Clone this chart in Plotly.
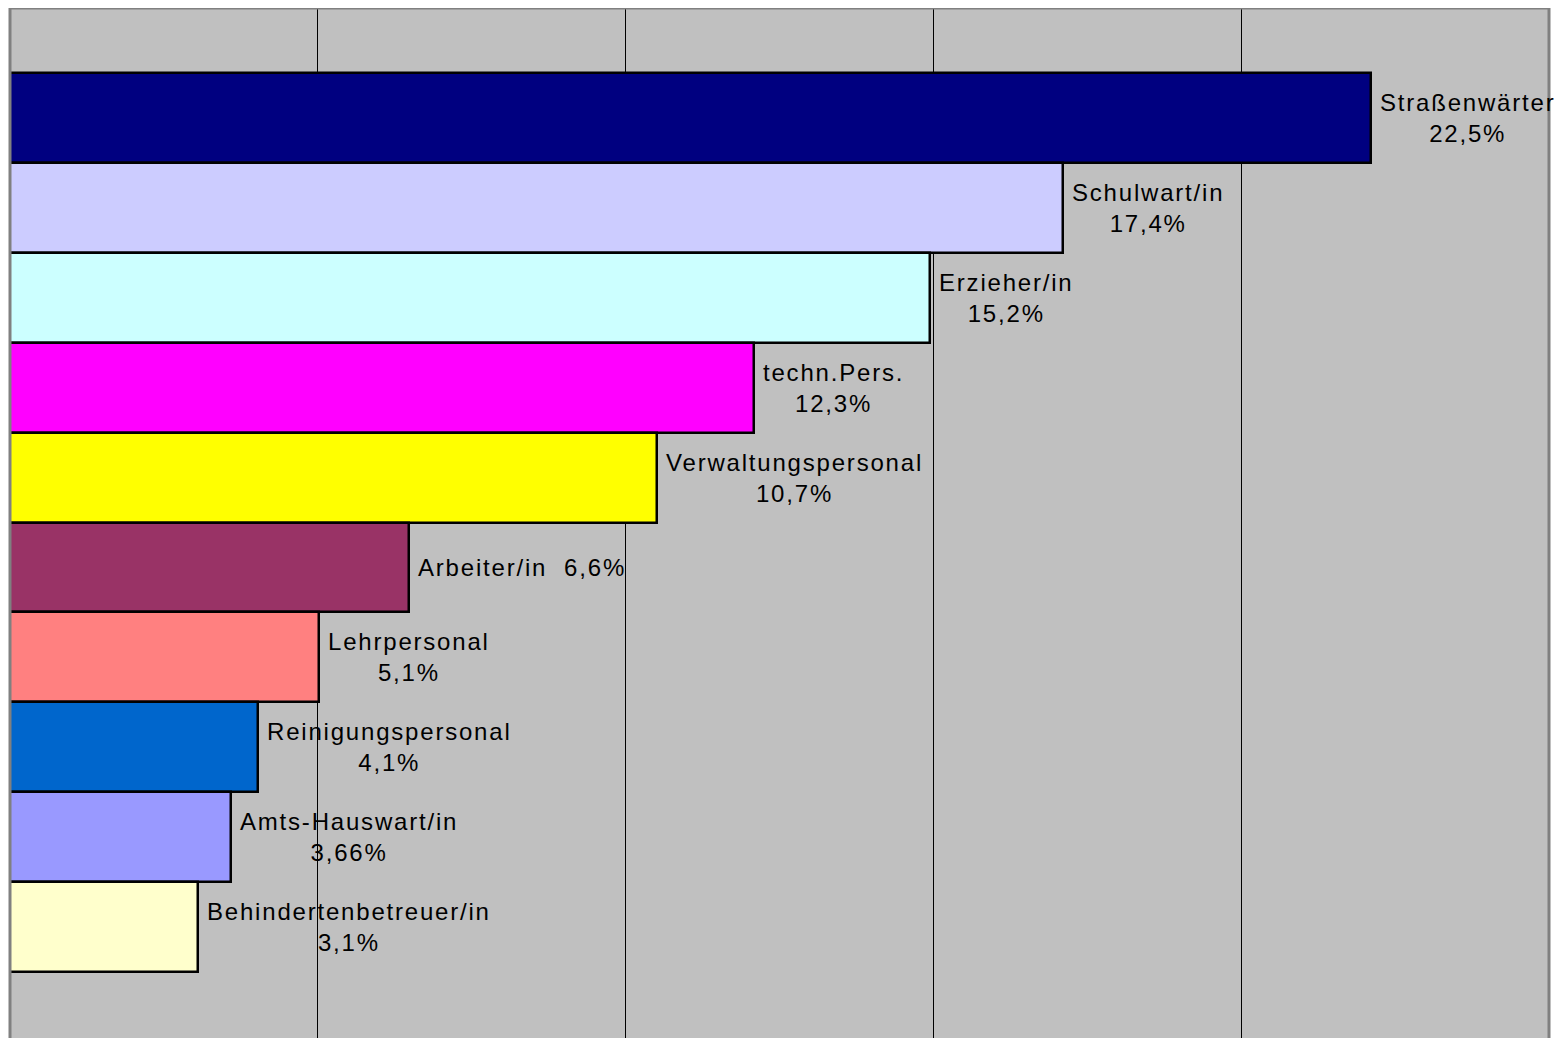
import plotly.graph_objects as go

categories = ["Straßenwärter", "Schulwart/in", "Erzieher/in", "techn.Pers.", "Verwaltungspersonal",
              "Arbeiter/in", "Lehrpersonal", "Reinigungspersonal", "Amts-Hauswart/in", "Behindertenbetreuer/in"]
values = [22.5, 17.4, 15.2, 12.3, 10.7, 6.6, 5.1, 4.1, 3.66, 3.1]
value_labels = ["22,5%", "17,4%", "15,2%", "12,3%", "10,7%", "6,6%", "5,1%", "4,1%", "3,66%", "3,1%"]
single_line = ["Arbeiter/in"]
colors = ["#000080", "#CCCCFF", "#CCFFFF", "#FF00FF", "#FFFF00",
          "#993366", "#FF8080", "#0066CC", "#9999FF", "#FFFFCC"]

x_max = 25.44
grid_step = x_max / 5


def spaced(s):
    return f'<span style="letter-spacing:1.8px">{s}</span>'


fig = go.Figure()
fig.add_trace(go.Bar(
    y=categories, x=values, orientation="h",
    marker=dict(color=colors, line=dict(color="black", width=2.5)),
    showlegend=False, hoverinfo="skip",
))

for cat, v, vl in zip(categories, values, value_labels):
    if cat in single_line:
        txt = spaced(f"{cat}\u00a0 {vl}")
    else:
        txt = spaced(cat) + "<br>" + spaced(vl)
    fig.add_annotation(x=v, y=cat, text=txt, showarrow=False, xanchor="left", yanchor="middle",
                       align="center", xshift=7,
                       font=dict(family="Liberation Sans, Arial", size=24, color="black"))

for shp in [dict(x0=0, x1=0, y0=0, y1=1), dict(x0=0, x1=1, y0=1, y1=1), dict(x0=1, x1=1, y0=0, y1=1)]:
    fig.add_shape(type="line", xref="paper", yref="paper", line=dict(color="#808080", width=3),
                  layer="above", **shp)

fig.update_layout(
    width=1557, height=1030,
    margin=dict(l=2, r=16, t=0, b=0, pad=0),
    paper_bgcolor="white", plot_bgcolor="#C0C0C0",
    bargap=0,
    xaxis=dict(range=[0, x_max], tickvals=[grid_step * k for k in range(1, 5)], showticklabels=False,
               showgrid=True, gridcolor="black", gridwidth=1, zeroline=False, ticks=""),
    yaxis=dict(range=[len(categories) - 1 + 0.5 + 0.734, -0.5 - 0.724], showticklabels=False,
               showgrid=False, zeroline=False, ticks=""),
)
fig.write_html("out.html")
